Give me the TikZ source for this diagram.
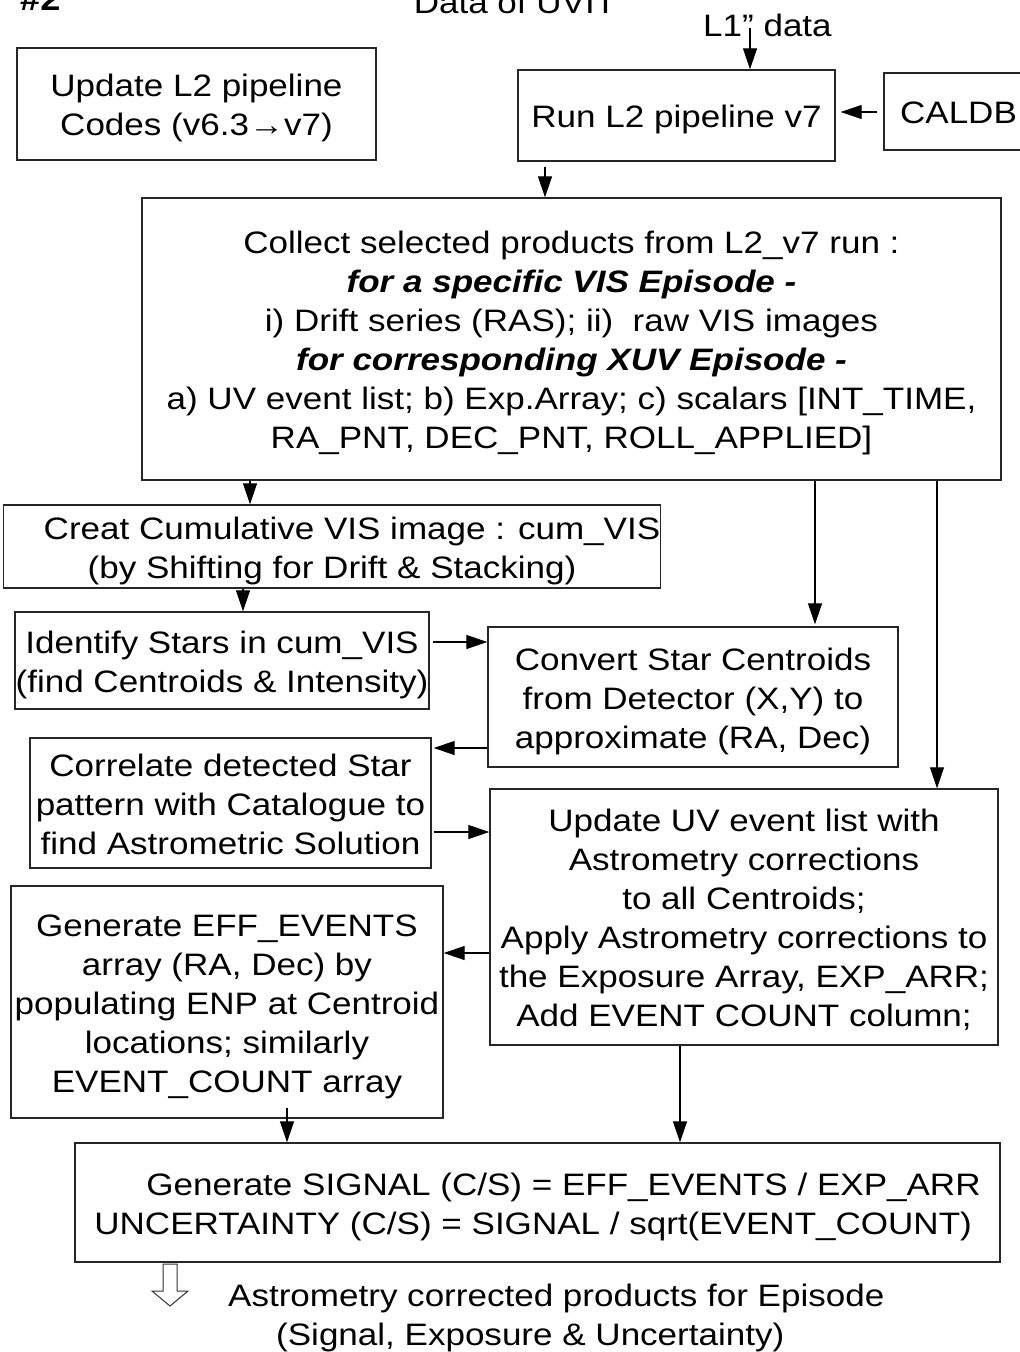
\documentclass[tikz,border=0pt]{standalone}
\usepackage{fontspec}
\setmainfont[FakeStretch=1.13]{Liberation Sans}
\usetikzlibrary{arrows.meta}
\newcommand\mainfs{\fontsize{31}{39}\selectfont}
\newcommand\lostrut{\rule[-7.4pt]{0pt}{39pt}}
\begin{document}
\begin{tikzpicture}[x=1pt,y=-1pt,
 box/.style={draw=black!85, line width=1.4pt, inner xsep=0pt, inner ysep=0pt, align=center, font=\mainfs},
 arr/.style={draw=black, line width=1.2pt, -{Triangle[length=21pt,width=14pt]}},
 lbl/.style={font=\mainfs, inner sep=0pt}]
\useasboundingbox (0,0) rectangle (1020,1352);
\fill[white] (0,0) rectangle (1020,1352);
\clip (0,0) rectangle (1020,1352);

\node[lbl, font=\fontsize{32}{36}\selectfont\bfseries, anchor=base west] (num) at (20,10) {\#2};
\node[lbl, anchor=base] (data) at (515,13) {Data of UVIT};
\node[lbl, anchor=base west] (l1) at (703,36) {L1” data};

\node[box, minimum width=359, minimum height=112] (A) at (196.5,104) {\lostrut Update L2 pipeline\\Codes (v6.3→v7)\lostrut};
\node[box, minimum width=317, minimum height=91] (B) at (676.5,115.5) {\lostrut Run L2 pipeline v7};
\node[box, minimum width=149, minimum height=77] (C) at (958.5,111.5) {\lostrut CALDB};
\node[box, minimum width=859, minimum height=282] (D) at (571.5,339) {\lostrut Collect selected products from L2\_v7 run :\\\textbf{\textit{for a specific VIS Episode -}}\\i) Drift series (RAS); ii)\ \ raw VIS images\\\textbf{\textit{for corresponding XUV Episode -}}\\a) UV event list; b) Exp.Array; c) scalars [INT\_TIME,\\RA\_PNT, DEC\_PNT, ROLL\_APPLIED]\lostrut};
\node[box, minimum width=654, minimum height=83] (E) at (332,546.5) {\lostrut\hspace*{40pt}Creat Cumulative VIS image : cum\_VIS\\(by Shifting for Drift \& Stacking)\lostrut};
\node[box, minimum width=414, minimum height=97] (F) at (222,660.5) {\lostrut Identify Stars in cum\_VIS\\(find Centroids \& Intensity)\lostrut};
\node[box, minimum width=410, minimum height=140] (G) at (693,697) {\lostrut Convert Star Centroids\\from Detector (X,Y) to\\approximate (RA, Dec)\lostrut};
\node[box, minimum width=401, minimum height=130] (H) at (230.5,803) {\lostrut Correlate detected Star\\pattern with Catalogue to\\find Astrometric Solution\lostrut};
\node[box, minimum width=508, minimum height=256] (I) at (744,917) {\lostrut Update UV event list with\\Astrometry corrections\\to all Centroids;\\Apply Astrometry corrections to\\the Exposure Array, EXP\_ARR;\\Add EVENT COUNT column;\lostrut};
\node[box, minimum width=432, minimum height=232] (J) at (227,1002) {\lostrut Generate EFF\_EVENTS\\array (RA, Dec) by\\populating ENP at Centroid\\locations; similarly\\EVENT\_COUNT array\lostrut};
\node[box, minimum width=925, minimum height=119, align=left] (K) at (537.5,1202.5) {\lostrut\hspace*{52pt}Generate SIGNAL (C/S) = EFF\_EVENTS / EXP\_ARR\\UNCERTAINTY (C/S) = SIGNAL / sqrt(EVENT\_COUNT)\lostrut};
\node[lbl, align=left, anchor=north west] (out) at (228,1274.4) {\lostrut Astrometry corrected products for Episode\\\hspace*{48pt}(Signal, Exposure \& Uncertainty)};

\coordinate (l1a) at (750,28);
\draw[arr] (l1a) -- (l1a |- B.north);
\draw[arr, shorten <=6pt, shorten >=5pt] (C.west |- 0,112) -- (B.east |- 0,112);
\draw[arr, shorten <=5pt] (B.south -| 545,0) -- (D.north -| 545,0);
\draw[arr] (D.south -| 250,0) -- (E.north -| 250,0);
\draw[arr, shorten >=2pt] (D.south -| 815,0) -- (G.north -| 815,0);
\draw[arr] (D.south -| 937,0) -- (I.north -| 937,0);
\draw[arr] (E.south -| 243,0) -- (F.north -| 243,0);
\draw[arr, shorten <=3pt] (F.east |- 0,642) -- (G.west |- 0,642);
\draw[arr, shorten >=2pt] (G.west |- 0,748) -- (H.east |- 0,748);
\draw[arr, shorten <=2pt] (H.east |- 0,832) -- (I.west |- 0,832);
\draw[arr] (I.west |- 0,953) -- (J.east |- 0,953);
\draw[arr, shorten <=-11pt] (J.south -| 287,0) -- (K.north -| 287,0);
\draw[arr] (I.south -| 680,0) -- (K.north -| 680,0);

\draw[line width=1pt, draw=black!80, fill=white] (163,1264) -- (177,1264) -- (177,1291) -- (188,1291) -- (170,1306) -- (152,1291) -- (163,1291) -- cycle;
\end{tikzpicture}
\end{document}
